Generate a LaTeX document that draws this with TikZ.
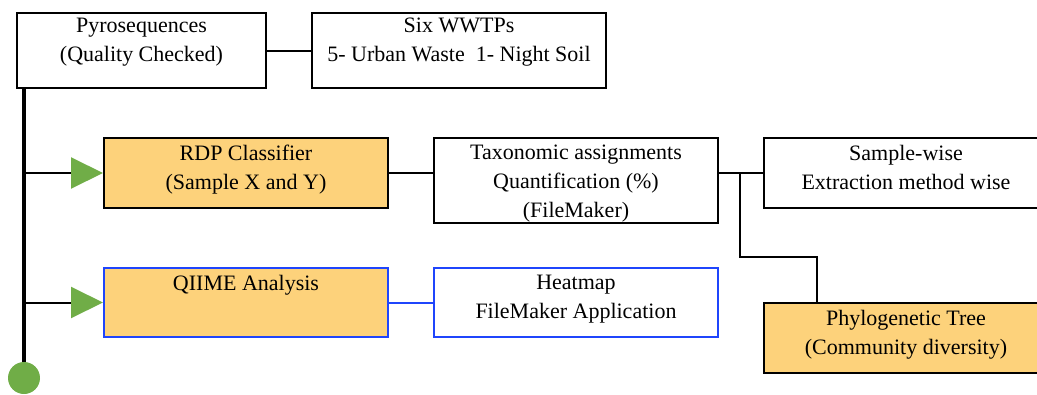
\documentclass[tikz,border=0pt]{standalone}
\usepackage{fontspec}
\setmainfont{Liberation Serif}
\newfontfamily\lserif{Liberation Serif}
\usetikzlibrary{arrows.meta,calc}
\definecolor{gold}{HTML}{FDD27B}
\definecolor{leaf}{HTML}{70AD47}
\definecolor{bblue}{HTML}{1F45FC}
\begin{document}
\begin{tikzpicture}[x=1pt,y=-1pt,
 box/.style={draw, line width=2pt, rectangle, inner sep=0pt, anchor=north west},
 gbox/.style={box, fill=gold},
 bluebox/.style={box, draw=bblue},
 txt/.style={align=center, inner sep=0pt, anchor=north, font=\lserif\fontsize{22}{29}\selectfont},
 link/.style={line width=2pt},
 tip/.style={-{Triangle[length=32pt,width=31pt,color=leaf]}}]
\useasboundingbox (0,0) rectangle (1037,394);
% boxes
\node[box, minimum width=249pt, minimum height=75pt] (pyro) at (16,12) {};
\node[box, minimum width=294pt, minimum height=75pt] (six) at (311,12) {};
\node[gbox, minimum width=284pt, minimum height=70pt] (rdp) at (103,137) {};
\node[box, minimum width=284pt, minimum height=85pt] (tax) at (433,137) {};
\node[box, minimum width=284pt, minimum height=70pt] (samp) at (763,137) {};
\node[gbox, draw=bblue, minimum width=284pt, minimum height=69pt] (qiime) at (103,267) {};
\node[bluebox, minimum width=284pt, minimum height=69pt] (heat) at (433,267) {};
\node[gbox, minimum width=284pt, minimum height=70pt] (phylo) at (763,302) {};
% texts
\node[txt] (pyrot) at ([yshift=-6pt]pyro.north) {Pyrosequences\\(Quality Checked)};
\node[txt] (sixt) at ([yshift=-6pt]six.north) {Six WWTPs\\5- Urban Waste\ \ 1- Night Soil};
\node[txt] (rdpt) at ([yshift=-8pt]rdp.north) {RDP Classifier\\(Sample X and Y)};
\node[txt] (taxt) at ([yshift=-8pt]tax.north) {Taxonomic assignments\\Quantification (\%)\\(FileMaker)};
\node[txt] (sampt) at ([yshift=-8pt]samp.north) {Sample-wise\\Extraction method wise};
\node[txt] (qiimet) at ([yshift=-8pt]qiime.north) {QIIME Analysis};
\node[txt] (heatt) at ([yshift=-8pt]heat.north) {Heatmap\\FileMaker Application};
\node[txt] (phylot) at ([yshift=-8pt]phylo.north) {Phylogenetic Tree\\(Community diversity)};
% spine
\node[circle, fill=leaf, minimum size=32pt, inner sep=0pt] (end) at (24,378) {};
\coordinate (top) at (end |- pyro.south);
\draw[line width=4.5pt] (top) -- (end.north);
\draw[link, tip] (end |- rdp.west) -- (rdp.west);
\draw[link, tip] (end |- qiime.west) -- (qiime.west);
% connectors
\draw[link] (pyro.east) -- (six.west);
\draw[link] (rdp.east) -- (tax.west |- rdp.east);
\draw[link] (tax.east |- samp.west) -- (samp.west);
\coordinate (j) at (740,172);
\coordinate (k) at (817,257);
\draw[link] (j) |- (k) -- (k |- phylo.north);
\draw[link, draw=bblue] (qiime.east) -- (heat.west);
\end{tikzpicture}
\end{document}
